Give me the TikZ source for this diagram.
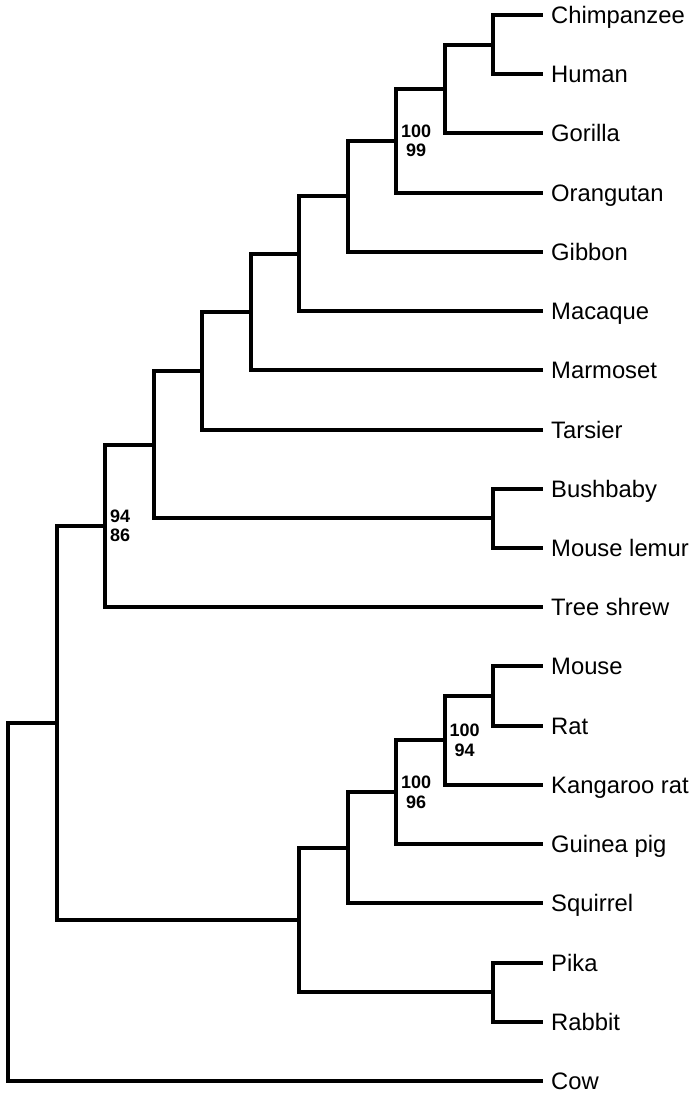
\documentclass[tikz,border=0pt]{standalone}
\usepackage{fontspec}
\setmainfont{Liberation Sans}
\begin{document}
\begin{tikzpicture}[x=1pt,y=-1pt,
  branch/.style={draw=black,line width=4pt},
  leaf/.style={anchor=west,inner xsep=8pt,inner ysep=0pt,font=\fontsize{23.8}{28}\selectfont,text height=17pt,text depth=0pt},
  support/.style={anchor=west,inner sep=0pt,align=center,font=\fontsize{18}{19.5}\selectfont\bfseries}]
\useasboundingbox (0,0) rectangle (697,1096);
% leaves (tip at x=543)
\node[leaf] (L0)  at (543,15)      {Chimpanzee};
\node[leaf] (L1)  at (543,74.22)   {Human};
\node[leaf] (L2)  at (543,133.44)  {Gorilla};
\node[leaf] (L3)  at (543,192.66)  {Orangutan};
\node[leaf] (L4)  at (543,251.88)  {Gibbon};
\node[leaf] (L5)  at (543,311.1)   {Macaque};
\node[leaf] (L6)  at (543,370.32)  {Marmoset};
\node[leaf] (L7)  at (543,429.54)  {Tarsier};
\node[leaf] (L8)  at (543,488.76)  {Bushbaby};
\node[leaf] (L9)  at (543,547.98)  {Mouse lemur};
\node[leaf] (L10) at (543,607.2)   {Tree shrew};
\node[leaf] (L11) at (543,666.42)  {Mouse};
\node[leaf] (L12) at (543,725.64)  {Rat};
\node[leaf] (L13) at (543,784.86)  {Kangaroo rat};
\node[leaf] (L14) at (543,844.08)  {Guinea pig};
\node[leaf] (L15) at (543,903.3)   {Squirrel};
\node[leaf] (L16) at (543,962.52)  {Pika};
\node[leaf] (L17) at (543,1021.74) {Rabbit};
\node[leaf] (L18) at (543,1080.96) {Cow};
% internal nodes
\coordinate (n1) at (493,44.61);
\coordinate (n2) at (444.5,89.03);
\coordinate (n3) at (396,140.84);
\coordinate (n4) at (347.5,196.36);
\coordinate (n5) at (299,253.73);
\coordinate (n6) at (250.5,312.03);
\coordinate (n7) at (202,370.78);
\coordinate (s1) at (493,518.37);
\coordinate (n8) at (153.5,444.58);
\coordinate (n9) at (105,525.89);
\coordinate (r1) at (493,696.03);
\coordinate (r2) at (444.5,740.45);
\coordinate (r3) at (396,792.26);
\coordinate (r4) at (347.5,847.78);
\coordinate (l1) at (493,992.13);
\coordinate (g1) at (299,919.96);
\coordinate (e1) at (56.5,722.92);
\coordinate (rt) at (8,901.94);
% branches
\draw[branch] (n1) |- (L0.west) (n1) |- (L1.west);
\draw[branch] (n2) |- (n1) (n2) |- (L2.west);
\draw[branch] (n3) |- (n2) (n3) |- (L3.west);
\draw[branch] (n4) |- (n3) (n4) |- (L4.west);
\draw[branch] (n5) |- (n4) (n5) |- (L5.west);
\draw[branch] (n6) |- (n5) (n6) |- (L6.west);
\draw[branch] (n7) |- (n6) (n7) |- (L7.west);
\draw[branch] (s1) |- (L8.west) (s1) |- (L9.west);
\draw[branch] (n8) |- (n7) (n8) |- (s1);
\draw[branch] (n9) |- (n8) (n9) |- (L10.west);
\draw[branch] (r1) |- (L11.west) (r1) |- (L12.west);
\draw[branch] (r2) |- (r1) (r2) |- (L13.west);
\draw[branch] (r3) |- (r2) (r3) |- (L14.west);
\draw[branch] (r4) |- (r3) (r4) |- (L15.west);
\draw[branch] (l1) |- (L16.west) (l1) |- (L17.west);
\draw[branch] (g1) |- (r4) (g1) |- (l1);
\draw[branch] (e1) |- (n9) (e1) |- (g1);
\draw[branch] (rt) |- (e1) (rt) |- (L18.west);
% support values
\node[support] (b1) at ([xshift=5pt]n3) {100\\99};
\node[support] (b2) at ([xshift=5pt]n9) {94\\86};
\node[support] (b3) at ([xshift=5pt]r2) {100\\94};
\node[support] (b4) at ([xshift=5pt]r3) {100\\96};
\end{tikzpicture}
\end{document}
